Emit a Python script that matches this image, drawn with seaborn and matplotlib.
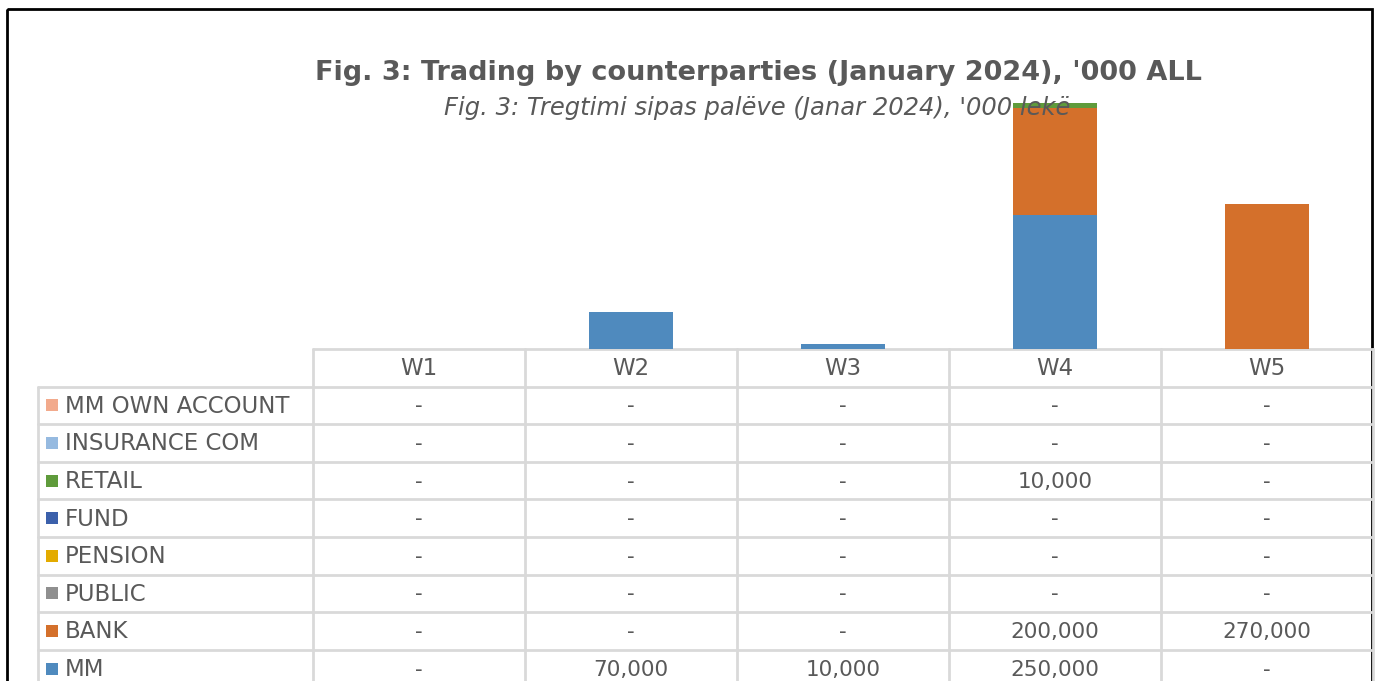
import numpy as np
import pandas as pd
import seaborn as sns
import matplotlib.pyplot as plt
from matplotlib.patches import Rectangle

# data ('000 ALL)
weeks = ["W1", "W2", "W3", "W4", "W5"]
# stacking order, bottom first
series = ["MM", "BANK", "PUBLIC", "PENSION", "FUND", "RETAIL", "INSURANCE COM", "MM OWN ACCOUNT"]
mm = [0, 70000, 10000, 250000, 0]
bank = [0, 0, 0, 200000, 270000]
public = [0, 0, 0, 0, 0]
pension = [0, 0, 0, 0, 0]
fund = [0, 0, 0, 0, 0]
retail = [0, 0, 0, 10000, 0]
insurance = [0, 0, 0, 0, 0]
mm_own = [0, 0, 0, 0, 0]

colors = {
    "MM": "#4F8ABE",
    "BANK": "#D4702B",
    "PUBLIC": "#8F8F8F",
    "PENSION": "#E3AB00",
    "FUND": "#3B60AB",
    "RETAIL": "#5F9B3B",
    "INSURANCE COM": "#96BAE0",
    "MM OWN ACCOUNT": "#F2AA8C",
}

df = pd.DataFrame({"MM": mm, "BANK": bank, "PUBLIC": public, "PENSION": pension,
                   "FUND": fund, "RETAIL": retail, "INSURANCE COM": insurance,
                   "MM OWN ACCOUNT": mm_own}, index=weeks)

sns.set_theme(style="white")
plt.rcParams["font.family"] = ["DejaVu Sans"]
txt = "#595959"
grid = "#D9D9D9"

W, H = 1376, 681
fig = plt.figure(figsize=(W / 100, H / 100), dpi=100)

# bar area in pixel terms
left, right, top, base = 313, 1373, 100, 349
ax = fig.add_axes([left / W, 1 - base / H, (right - left) / W, (base - top) / H])

# stacked bars: draw cumulative totals from the top series down
cum = df.cumsum(axis=1)
for name in reversed(series):
    sns.barplot(x=weeks, y=cum[name].values, color=colors[name], width=0.4,
                saturation=1, ax=ax, linewidth=0)
ax.set_ylim(0, 465000)
ax.set_xlim(-0.5, 4.5)
ax.set_axis_off()

# overlay in pixel coordinates for title, data table and frame
ov = fig.add_axes([0, 0, 1, 1], zorder=-1)
ov.set_xlim(0, W)
ov.set_ylim(H, 0)
ov.set_axis_off()

ov.add_patch(Rectangle((7, 9), 1365, 700, fill=False, edgecolor="black", linewidth=2))

ov.text(758, 73, "Fig. 3: Trading by counterparties (January 2024), '000 ALL",
        ha="center", va="center", fontsize=19.5, fontweight="bold", color=txt)
fig.text(757 / W, 1 - 108 / H, "Fig. 3: Tregtimi sipas palëve (Janar 2024), '000 lekë",
         ha="center", va="center", fontsize=17.5, style="italic", color=txt, zorder=5)

# data table
col_w = (right - left) / len(weeks)
row_h = 37.6
header_top = base
row_top = base + row_h
label_left = 38
table_rows = ["MM OWN ACCOUNT", "INSURANCE COM", "RETAIL", "FUND", "PENSION", "PUBLIC", "BANK", "MM"]

lw = 2
ov.plot([left, right], [header_top, header_top], color=grid, lw=lw)
for i in range(len(weeks) + 1):
    x = left + i * col_w
    ov.plot([x, x], [header_top, H + 10], color=grid, lw=lw)
ov.plot([label_left, label_left], [row_top, H + 10], color=grid, lw=lw)
for j in range(len(table_rows) + 1):
    y = row_top + j * row_h
    ov.plot([label_left, right], [y, y], color=grid, lw=lw)

for i, w in enumerate(weeks):
    ov.text(left + (i + 0.5) * col_w, header_top + row_h / 2 + 1, w,
            ha="center", va="center", fontsize=16.5, color=txt)

for j, name in enumerate(table_rows):
    yc = row_top + (j + 0.5) * row_h
    ov.add_patch(Rectangle((46, yc - 6), 12, 12, color=colors[name], lw=0))
    ov.text(65, yc + 1, name, ha="left", va="center", fontsize=16.5, color=txt)
    for i, w in enumerate(weeks):
        v = df.loc[w, name]
        label = f"{v:,.0f}" if v else "-"
        ov.text(left + (i + 0.5) * col_w, yc + 1, label,
                ha="center", va="center", fontsize=15.5, color=txt)

fig.savefig("out.png", dpi=100)
